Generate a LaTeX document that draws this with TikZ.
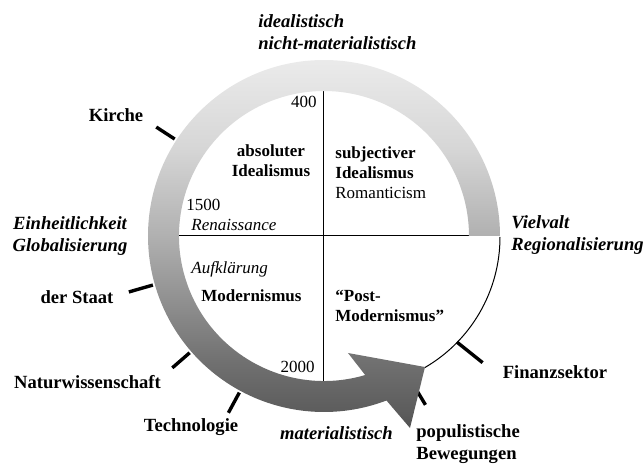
\documentclass[tikz,border=0pt]{standalone}
\usepackage{fontspec}
\setmainfont{Liberation Serif}

\pgfdeclareverticalshading{ringshade}{100bp}{color(0bp)=(black!68); color(25bp)=(black!68); color(27bp)=(black!64); color(34bp)=(black!56); color(42bp)=(black!44); color(51bp)=(black!31); color(63bp)=(black!16); color(75bp)=(black!8); color(100bp)=(black!8)}

\begin{document}
\begin{tikzpicture}[x=0.5pt,y=0.5pt]
  \tikzset{outer/.style = {font=\fontsize{9.3}{11}\selectfont\bfseries, inner sep=0pt, align=left}}
  \tikzset{outerit/.style = {outer, font=\fontsize{9.3}{11}\selectfont\bfseries\itshape}}
  \tikzset{inner/.style = {font=\fontsize{8.5}{10}\selectfont, inner sep=0pt, align=left}}
  \tikzset{innerbf/.style = {inner, font=\fontsize{8.5}{10}\selectfont\bfseries}}
  \tikzset{innerit/.style = {inner, font=\fontsize{8.5}{10}\selectfont\itshape}}
  \tikzset{tickmark/.style = {line width=1.7pt}}
  \tikzset{thinline/.style = {line width=0.5pt}}
  \tikzset{band/.style = {shading=ringshade, draw=none}}

  \useasboundingbox (-324,-230) rectangle (319,236);

  % quadrants and the open part of the circle
  \coordinate (N) at (90:145);
  \coordinate (S) at (270:145);
  \coordinate (W) at (180:145);
  \coordinate (E) at (0:145);
  \draw[thinline] (N) -- (S);
  \draw[thinline] (W) -- (E);
  \draw[thinline] (25,-1) ++(0:151) arc[start angle=0, end angle=-60, radius=151];

  % marks on the rim
  \foreach \ang/\rin/\rout in {147/178/200, 196/178/203, 221/178/201, 241.6/178/201, 301/176/197, 321.4/170/203}
    \draw[tickmark] (\ang:\rin) -- (\ang:\rout);

  % the circular arrow
  \shade[band] (0:176) arc[start angle=0, end angle=290.8, radius=176]
    -- (86,-192) -- (101,-131) -- (24,-117)
    -- (286.5:145) arc[start angle=286.5, end angle=0, radius=145] -- cycle;

  % texts round the circle
  \node[outerit, anchor=west] (ideal) at (-66,204) {idealistisch\\nicht-materialistisch};
  \node[outer] (kirche) at (-208,121) {Kirche};
  \node[outerit, align=center] (einheit) at (-254,-0.5) {Einheitlichkeit\\Globalisierung};
  \node[outer] (staat) at (-247,-61) {der Staat};
  \node[outer] (natur) at (-236.5,-146) {Naturwissenschaft};
  \node[outer] (techno) at (-133,-191) {Technologie};
  \node[outerit] (mater) at (12.5,-197.5) {materialistisch};
  \node[outer, anchor=west] (popul) at (92,-208.5) {populistische\\Bewegungen};
  \node[outer] (finanz) at (231,-136) {Finanzsektor};
  \node[outerit, anchor=west] (vielvalt) at (187,1) {Vielvalt\\Regionalisierung};

  % texts in the quadrants
  \node[inner, anchor=east] (y400) at (-7,134.5) {400};
  \node[innerbf, align=center] (absolut) at (-53,75) {absoluter\\Idealismus};
  \node[innerbf, anchor=west] (subjekt) at (11,63) {subjectiver\\Idealismus\\\mdseries Romanticism};
  \node[inner, anchor=west] (y1500) at (-138,31.5) {1500};
  \node[innerit, anchor=west] (renais) at (-133,11.5) {Renaissance};
  \node[innerit, anchor=west] (aufkl) at (-133,-33) {Aufklärung};
  \node[innerbf] (modern) at (-72.5,-60) {Modernismus};
  \node[innerbf, anchor=west] (postmod) at (11,-70) {“Post-\\Modernismus”};
  \node[inner, anchor=east] (y2000) at (-9,-130.5) {2000};
\end{tikzpicture}
\end{document}
